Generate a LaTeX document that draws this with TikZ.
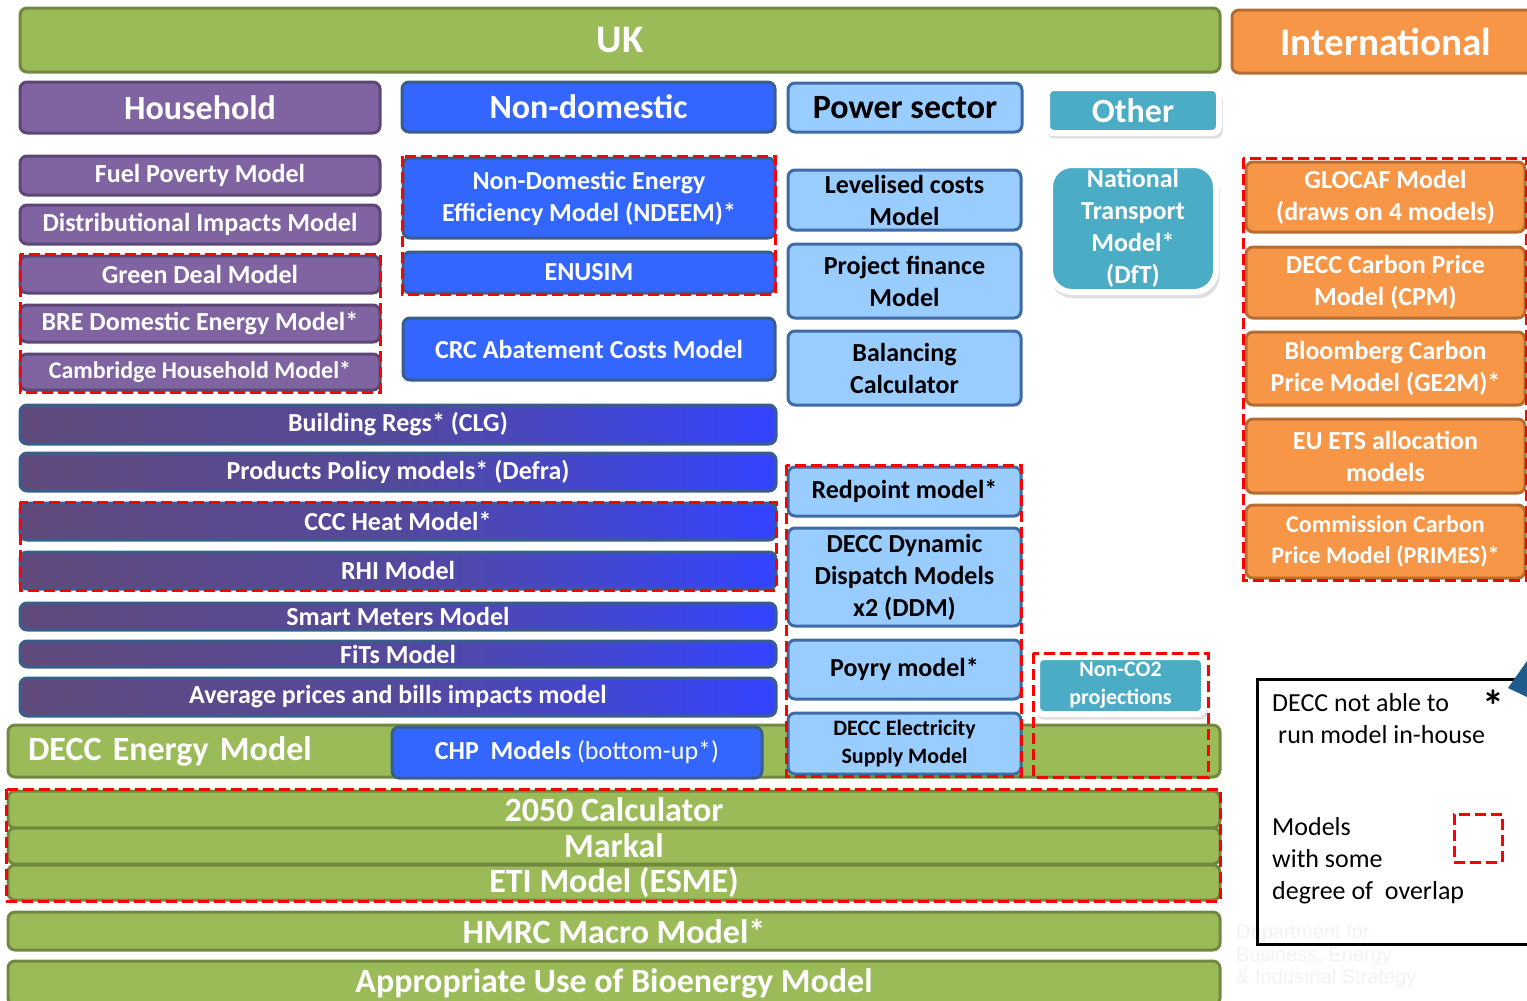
\documentclass[tikz,border=0pt]{standalone}
\usepackage{fontspec}
\setmainfont{Carlito}
\newfontfamily\arialfont{Liberation Sans}
\usetikzlibrary{shadows}

\definecolor{ukgreen}{HTML}{9BBB59}
\definecolor{ukgreenD}{HTML}{71893F}
\definecolor{hhpurple}{HTML}{8064A2}
\definecolor{hhpurpleD}{HTML}{5C4776}
\definecolor{ndblue}{HTML}{3366FF}
\definecolor{ndblueD}{HTML}{3A5E8C}
\definecolor{psblue}{HTML}{99CCFF}
\definecolor{psblueD}{HTML}{3E6BA5}
\definecolor{otteal}{HTML}{4BACC6}
\definecolor{intorange}{HTML}{F79646}
\definecolor{intorangeD}{HTML}{B66D31}
\definecolor{mixpurple}{HTML}{604A7B}
\definecolor{mixblue}{HTML}{3344FF}
\definecolor{callblue}{HTML}{1F5A8C}

\tikzset{
  box/.style={rounded corners=7pt, line width=3pt, inner sep=0pt, align=center,
    text=white, font=\bfseries\fontsize{26}{32}\selectfont},
  ukbox/.style={box, fill=ukgreen, draw=ukgreenD},
  hhbox/.style={box, fill=hhpurple, draw=hhpurpleD},
  ndbox/.style={box, fill=ndblue, draw=ndblueD},
  psbox/.style={box, fill=psblue, draw=psblueD, text=black},
  otbox/.style={box, fill=otteal, draw=white, line width=6pt,
    drop shadow={shadow xshift=2pt, shadow yshift=-5pt, shadow scale=1.02, opacity=0.25}},
  intbox/.style={box, fill=intorange, draw=intorangeD},
  mixbox/.style={box, left color=mixpurple, right color=mixblue,
    middle color=mixpurple!75!mixblue, draw=ndblueD},
  header/.style={font=\bfseries\fontsize{34}{40}\selectfont},
  bighead/.style={font=\bfseries\fontsize{39}{44}\selectfont},
  wide/.style={font=\bfseries\fontsize{34}{40}\selectfont},
  small/.style={font=\bfseries\fontsize{22}{28}\selectfont},
  overlap/.style={draw=red, line width=3pt, dash pattern=on 11pt off 5pt},
  legtext/.style={inner sep=0pt, anchor=west, align=left, font=\fontsize{26}{32}\selectfont},
}

\begin{document}
\begin{tikzpicture}[x=1pt, y=-1pt]
  \useasboundingbox (0,0) rectangle (1527,1001);
  \clip (0,0) rectangle (1527,1001);

  % Headers
  \node[ukbox, bighead, minimum width=1200pt, minimum height=64pt] (uk) at (620,40) {UK};
  \node[intbox, bighead, minimum width=308pt, minimum height=63pt] (intl) at (1386,41.5) {International};
  \node[hhbox, header, minimum width=360pt, minimum height=51pt] (household) at (200,107.5) {Household};
  \node[ndbox, header, minimum width=373pt, minimum height=50pt] (nondom) at (588.5,107) {Non-domestic};
  \node[psbox, header, minimum width=234pt, minimum height=49pt] (power) at (905,107.5) {Power sector};
  \node[otbox, header, minimum width=172pt, minimum height=45pt] (other) at (1133,110.5) {Other};

  % Household models
  \node[hhbox, minimum width=360pt, minimum height=39pt] (fuel) at (200,175.5) {Fuel Poverty Model};
  \node[hhbox, minimum width=360pt, minimum height=39pt] (distimp) at (200,224.5) {Distributional Impacts Model};
  \node[hhbox, minimum width=360pt, minimum height=37pt] (greendeal) at (200,274.5) {Green Deal Model};
  \node[hhbox, minimum width=360pt, minimum height=37pt] (bre) at (200,323.5) {BRE Domestic Energy Model*};
  \node[hhbox, minimum width=360pt, minimum height=36pt, font=\bfseries\fontsize{24}{30}\selectfont] (cambridge) at (200,372) {Cambridge Household Model*};

  % Non-domestic models
  \node[ndbox, minimum width=372pt, minimum height=80pt] (ndeem) at (589,198) {Non-Domestic Energy\\Efficiency Model (NDEEM)*};
  \node[ndbox, minimum width=372pt, minimum height=41pt] (enusim) at (589,272.5) {ENUSIM};
  \node[ndbox, minimum width=372pt, minimum height=62pt] (crc) at (589,349) {CRC Abatement Costs Model};

  % Shared household / non-domestic models
  \node[mixbox, minimum width=756pt, minimum height=39pt] (bregs) at (398,424.5) {Building Regs* (CLG)};
  \node[mixbox, minimum width=756pt, minimum height=38pt] (products) at (398,472) {Products Policy models* (Defra)};
  \node[mixbox, minimum width=756pt, minimum height=37pt] (cccheat) at (398,521.5) {CCC Heat Model*};
  \node[mixbox, minimum width=756pt, minimum height=37pt] (rhi) at (398,570.5) {RHI Model};
  \node[mixbox, minimum width=756pt, minimum height=27pt] (smart) at (398,616.5) {Smart Meters Model};
  \node[mixbox, minimum width=756pt, minimum height=26pt] (fits) at (398,654) {FiTs Model};
  \node[mixbox, minimum width=756pt, minimum height=38pt] (avgprices) at (398,697) {Average prices and bills impacts model};

  % DECC Energy Model
  \node[ukbox, wide, minimum width=1212pt, minimum height=52pt, text width=1172pt, align=left] (deccem) at (614,751) {DECC Energy Model};
  \node[ndbox, minimum width=370pt, minimum height=51pt] (chp) at (577,752.5) {CHP\ \ Models \mdseries(bottom-up*)};

  % Power sector models
  \node[psbox, minimum width=233pt, minimum height=60pt] (levelised) at (904.5,200) {Levelised costs\\Model};
  \node[psbox, minimum width=233pt, minimum height=74pt] (projfin) at (904.5,281) {Project finance\\Model};
  \node[psbox, minimum width=233pt, minimum height=74pt] (balancing) at (904.5,368) {Balancing\\Calculator};
  \node[psbox, minimum width=233pt, minimum height=49pt] (redpoint) at (904.5,491.5) {Redpoint model*};
  \node[psbox, minimum width=233pt, minimum height=98pt] (ddm) at (904.5,577) {DECC Dynamic\\Dispatch Models\\x2 (DDM)};
  \node[psbox, minimum width=233pt, minimum height=59pt] (poyry) at (904.5,669.5) {Poyry model*};
  \node[psbox, small, minimum width=233pt, minimum height=61pt] (elecsupply) at (904.5,743.5) {DECC Electricity\\Supply Model};

  % Other models
  \node[otbox, rounded corners=22pt, minimum width=166pt, minimum height=127pt] (nts) at (1133,228.5) {National\\Transport\\Model*\\(DfT)};
  \node[otbox, small, minimum width=167pt, minimum height=57pt] (nonco2) at (1120.5,685.5) {Non-CO2\\projections};

  % International models
  \node[intbox, minimum width=279pt, minimum height=70pt] (glocaf) at (1385.5,197) {GLOCAF Model\\(draws on 4 models)};
  \node[intbox, minimum width=279pt, minimum height=71pt] (cpm) at (1385.5,282.5) {DECC Carbon Price\\Model (CPM)};
  \node[intbox, minimum width=279pt, minimum height=73pt] (bloomberg) at (1385.5,368.5) {Bloomberg Carbon\\Price Model (GE2M)*};
  \node[intbox, minimum width=279pt, minimum height=74pt] (euets) at (1385.5,456) {EU ETS allocation\\models};
  \node[intbox, minimum width=279pt, minimum height=73pt, font=\bfseries\fontsize{24}{31}\selectfont] (primes) at (1385.5,541.5) {Commission Carbon\\Price Model (PRIMES)*};

  % Whole-system models
  \node[ukbox, wide, minimum width=1212pt, minimum height=37pt] (calc2050) at (614,809.5) {2050 Calculator};
  \node[ukbox, wide, minimum width=1212pt, minimum height=36pt] (markal) at (614,846) {Markal};
  \node[ukbox, wide, minimum width=1212pt, minimum height=35pt] (eti) at (614,882.5) {ETI Model (ESME)};
  \node[ukbox, wide, minimum width=1212pt, minimum height=38pt] (hmrc) at (614,931) {HMRC Macro Model*};
  \node[ukbox, wide, minimum width=1212pt, minimum height=44pt] (bioenergy) at (614,983) {Appropriate Use of Bioenergy Model};

  % Overlap frames
  \draw[overlap] (20,254) rectangle (380,392);
  \draw[overlap] (402,156) rectangle (775,294);
  \draw[overlap] (20,502) rectangle (776,590);
  \draw[overlap] (786,465) rectangle (1021,776);
  \draw[overlap] (1033,653) rectangle (1208,777);
  \draw[overlap] (1243,158) rectangle (1526,580);
  \draw[overlap] (6,789) rectangle (1220,901);

  % Watermark
  \node[inner sep=0pt, anchor=north west, align=left, text=black!5,
    font=\arialfont\fontsize{20}{22.5}\selectfont] (dept) at (1236,924)
    {Department for\\Business, Energy\\\& Industrial Strategy};

  % Legend
  \node[draw=black, line width=2.5pt, minimum width=290pt, minimum height=265pt, anchor=north west] (legend) at (1256,678) {};
  \fill[callblue] (1508,688) -- (1527,661) -- (1527,697) -- cycle;
  \node[legtext] (legstar1) at (1272,719) {DECC not able to\\\hspace*{6pt}run model in-house};
  \node[inner sep=0pt, font=\bfseries\fontsize{44}{44}\selectfont] (legstar) at (1493,706) {*};
  \node[legtext] (legov) at (1272,861) {Models\\with some\\degree of\ \ overlap};
  \node[overlap, minimum size=48pt] (legsq) at (1478,838) {};
\end{tikzpicture}
\end{document}
